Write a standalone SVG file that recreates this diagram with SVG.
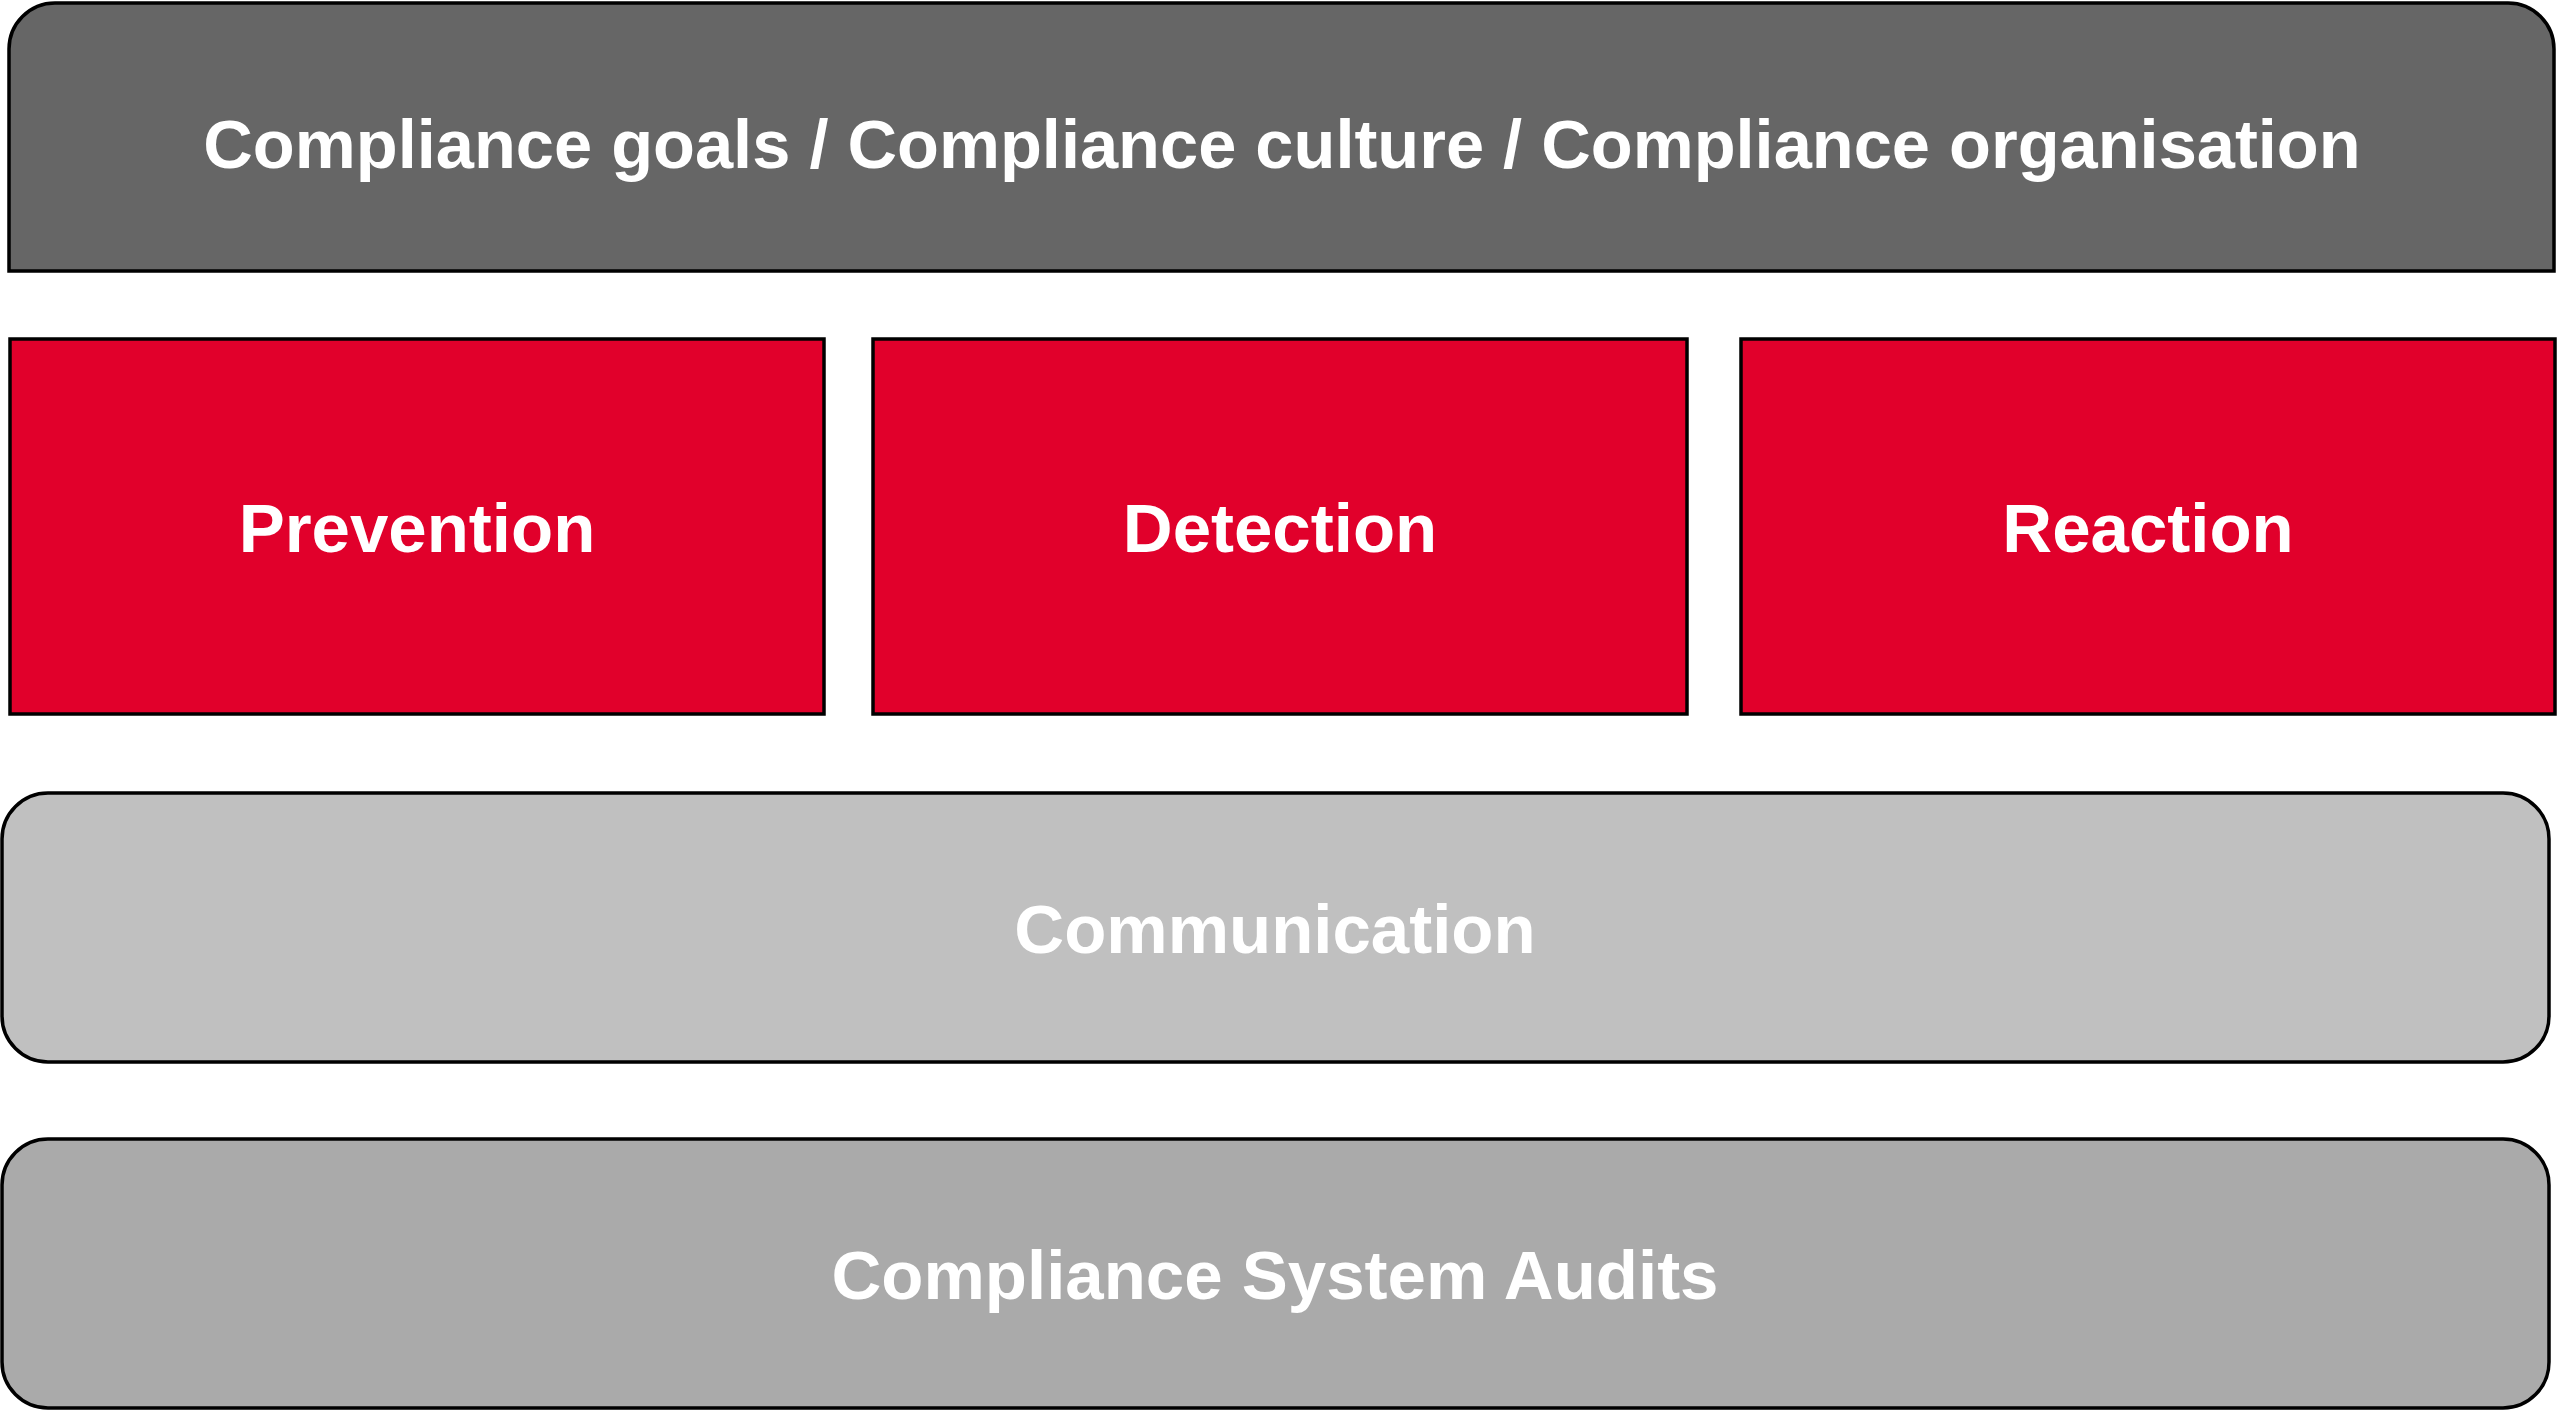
<svg xmlns="http://www.w3.org/2000/svg" width="2558" height="1411" viewBox="0 0 2558 1411">
<style>
.box{stroke:#000;stroke-width:3.5}
.lbl{font-family:"Liberation Sans",Arial,sans-serif;font-weight:bold;font-size:69px;fill:#fff;text-anchor:middle}
.hdr{font-size:68.6px}
</style>
<rect width="2558" height="1411" fill="#fff"/>
<g id="top">
<path class="box" fill="#666666" d="M9,271 L9,49 A46,46 0 0 1 55,3 L2508,3 A46,46 0 0 1 2554,49 L2554,271 Z"/>
<text class="lbl hdr" x="1282" y="168">Compliance goals / Compliance culture / Compliance organisation</text>
</g>
<g id="prevention">
<rect class="box" fill="#E1002B" x="10" y="339" width="814" height="375"/>
<text class="lbl" x="417" y="552">Prevention</text>
</g>
<g id="detection">
<rect class="box" fill="#E1002B" x="873" y="339" width="814" height="375"/>
<text class="lbl" x="1280" y="552">Detection</text>
</g>
<g id="reaction">
<rect class="box" fill="#E1002B" x="1741" y="339" width="814" height="375"/>
<text class="lbl" x="2148" y="552">Reaction</text>
</g>
<g id="communication">
<rect class="box" fill="#C0C0C0" x="2" y="793" width="2547" height="269" rx="46" ry="46"/>
<text class="lbl" x="1275" y="953">Communication</text>
</g>
<g id="audits">
<rect class="box" fill="#AAAAAA" x="2" y="1139" width="2547" height="269" rx="46" ry="46"/>
<text class="lbl" x="1275" y="1299">Compliance System Audits</text>
</g>
<g id="connectors"></g>
</svg>
